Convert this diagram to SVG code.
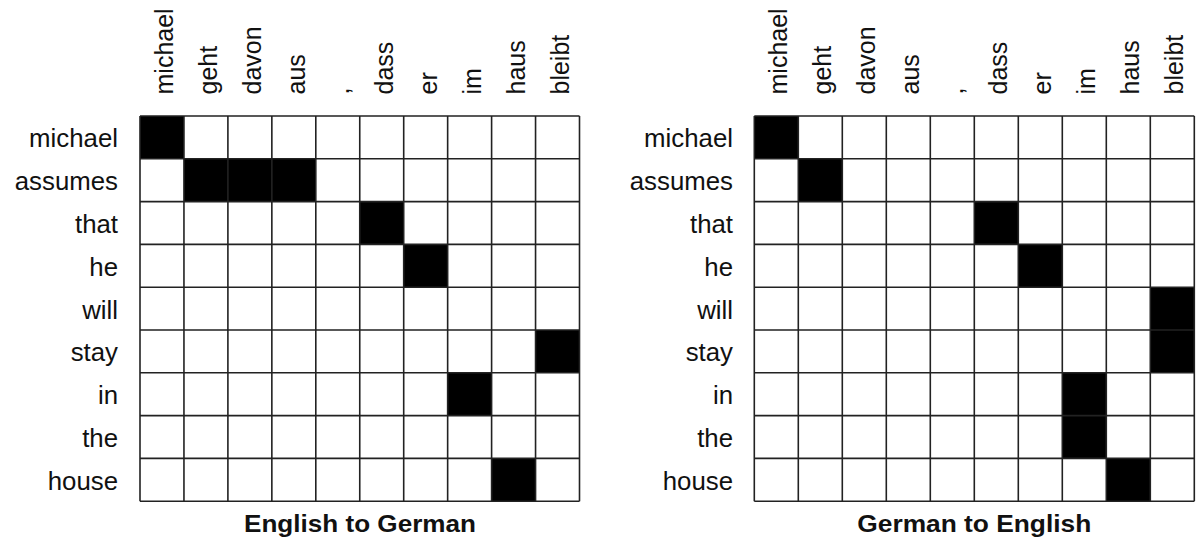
<svg xmlns="http://www.w3.org/2000/svg" width="1196" height="542" viewBox="0 0 1196 542">
<style>
.lbl{font-family:"Liberation Sans",Arial,sans-serif;font-size:25px;fill:#111}
.row{text-anchor:end;font-size:25.8px}
.title{font-family:"Liberation Sans",Arial,sans-serif;font-size:24px;font-weight:bold;fill:#111;text-anchor:middle}
.on{fill:#000}
.grid{fill:none;stroke:#222;stroke-width:1.6}
</style>
<rect width="1196" height="542" fill="#fff"/>
<g id="matrix-en-de">
<g id="cells-en-de">
<rect class="on" x="140" y="116" width="43.95" height="42.8"/>
<rect class="on" x="183.95" y="158.8" width="131.85" height="42.8"/>
<rect class="on" x="359.75" y="201.6" width="43.95" height="42.8"/>
<rect class="on" x="403.7" y="244.4" width="43.95" height="42.8"/>
<rect class="on" x="535.55" y="330" width="43.95" height="42.8"/>
<rect class="on" x="447.65" y="372.8" width="43.95" height="42.8"/>
<rect class="on" x="491.6" y="458.4" width="43.95" height="42.8"/>
</g>
<path class="grid" d="M140,116V501.2M183.95,116V501.2M227.9,116V501.2M271.85,116V501.2M315.8,116V501.2M359.75,116V501.2M403.7,116V501.2M447.65,116V501.2M491.6,116V501.2M535.55,116V501.2M579.5,116V501.2M140,116H579.5M140,158.8H579.5M140,201.6H579.5M140,244.4H579.5M140,287.2H579.5M140,330H579.5M140,372.8H579.5M140,415.6H579.5M140,458.4H579.5M140,501.2H579.5"/>
<g id="rows-en-de" class="lbl row">
<text x="118" y="147.4">michael</text>
<text x="118" y="190.2">assumes</text>
<text x="118" y="233">that</text>
<text x="118" y="275.8">he</text>
<text x="118" y="318.6">will</text>
<text x="118" y="361.4">stay</text>
<text x="118" y="404.2">in</text>
<text x="118" y="447">the</text>
<text x="118" y="489.8">house</text>
</g>
<g id="cols-en-de" class="lbl">
<text transform="translate(173,94.5) rotate(-90)">michael</text>
<text transform="translate(216.9,94.5) rotate(-90)">geht</text>
<text transform="translate(260.9,94.5) rotate(-90)">davon</text>
<text transform="translate(304.8,94.5) rotate(-90)">aus</text>
<text transform="translate(348.8,94.5) rotate(-90)">,</text>
<text transform="translate(392.7,94.5) rotate(-90)">dass</text>
<text transform="translate(436.7,94.5) rotate(-90)">er</text>
<text transform="translate(480.6,94.5) rotate(-90)">im</text>
<text transform="translate(524.6,94.5) rotate(-90)">haus</text>
<text transform="translate(568.5,94.5) rotate(-90)">bleibt</text>
</g>
<text id="title-en-de" class="title" x="360" y="532" textLength="232" lengthAdjust="spacingAndGlyphs">English to German</text>
</g>
<g id="matrix-de-en">
<g id="cells-de-en">
<rect class="on" x="754.3" y="116" width="44" height="42.8"/>
<rect class="on" x="798.3" y="158.8" width="44" height="42.8"/>
<rect class="on" x="974.3" y="201.6" width="44" height="42.8"/>
<rect class="on" x="1018.3" y="244.4" width="44" height="42.8"/>
<rect class="on" x="1150.3" y="287.2" width="44" height="85.6"/>
<rect class="on" x="1062.3" y="372.8" width="44" height="85.6"/>
<rect class="on" x="1106.3" y="458.4" width="44" height="42.8"/>
</g>
<path class="grid" d="M754.3,116V501.2M798.3,116V501.2M842.3,116V501.2M886.3,116V501.2M930.3,116V501.2M974.3,116V501.2M1018.3,116V501.2M1062.3,116V501.2M1106.3,116V501.2M1150.3,116V501.2M1194.3,116V501.2M754.3,116H1194.3M754.3,158.8H1194.3M754.3,201.6H1194.3M754.3,244.4H1194.3M754.3,287.2H1194.3M754.3,330H1194.3M754.3,372.8H1194.3M754.3,415.6H1194.3M754.3,458.4H1194.3M754.3,501.2H1194.3"/>
<g id="rows-de-en" class="lbl row">
<text x="733" y="147.4">michael</text>
<text x="733" y="190.2">assumes</text>
<text x="733" y="233">that</text>
<text x="733" y="275.8">he</text>
<text x="733" y="318.6">will</text>
<text x="733" y="361.4">stay</text>
<text x="733" y="404.2">in</text>
<text x="733" y="447">the</text>
<text x="733" y="489.8">house</text>
</g>
<g id="cols-de-en" class="lbl">
<text transform="translate(787.3,94.5) rotate(-90)">michael</text>
<text transform="translate(831.3,94.5) rotate(-90)">geht</text>
<text transform="translate(875.3,94.5) rotate(-90)">davon</text>
<text transform="translate(919.3,94.5) rotate(-90)">aus</text>
<text transform="translate(963.3,94.5) rotate(-90)">,</text>
<text transform="translate(1007.3,94.5) rotate(-90)">dass</text>
<text transform="translate(1051.3,94.5) rotate(-90)">er</text>
<text transform="translate(1095.3,94.5) rotate(-90)">im</text>
<text transform="translate(1139.3,94.5) rotate(-90)">haus</text>
<text transform="translate(1183.3,94.5) rotate(-90)">bleibt</text>
</g>
<text id="title-de-en" class="title" x="974.3" y="532" textLength="234" lengthAdjust="spacingAndGlyphs">German to English</text>
</g>
</svg>
